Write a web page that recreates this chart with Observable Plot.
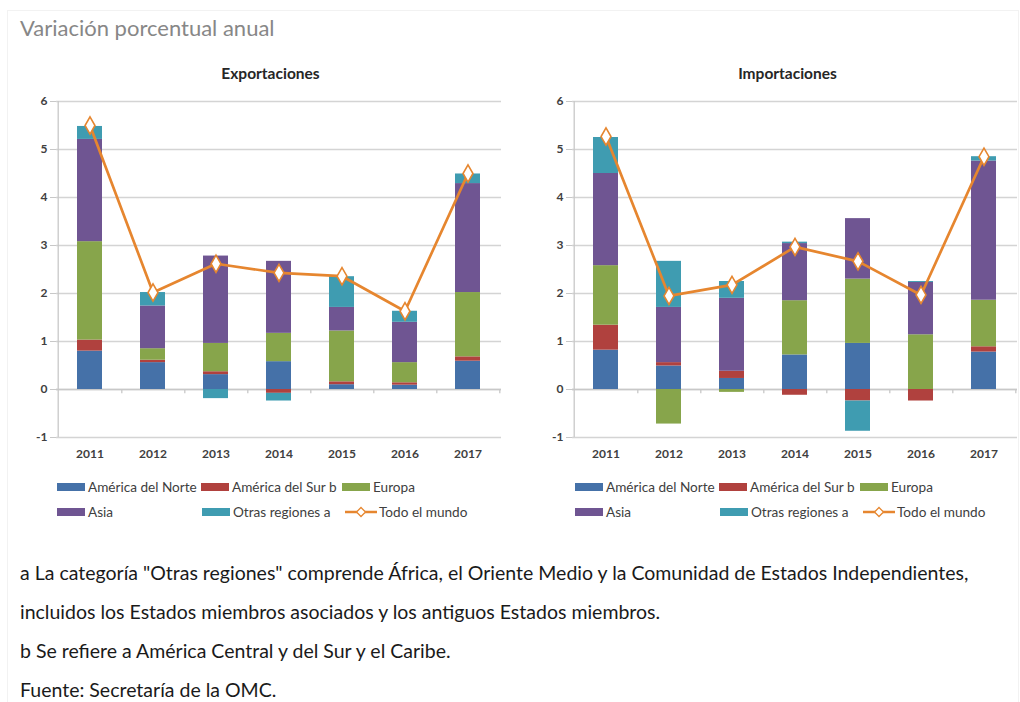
<!DOCTYPE html>
<html><head><meta charset="utf-8">
<script src="https://cdn.jsdelivr.net/npm/d3@7"></script>
<script src="https://cdn.jsdelivr.net/npm/@observablehq/plot@0.6"></script>
<style>
body{margin:0;background:#fff;font-family:Lato,"Open Sans",sans-serif;}
#page{position:relative;width:1020px;height:702px;overflow:hidden;}
#frame{position:absolute;left:7px;top:10px;width:1010px;height:700px;border:1px solid #f2f2f2;}
.abs{position:absolute;}
#title{left:20px;top:14px;font-size:22px;color:#878787;}
.ctitle{font-size:15.5px;font-weight:bold;color:#262626;width:445px;text-align:center;top:64px;}
.leg{font-size:13.6px;color:#404040;}
.legitem{position:absolute;display:flex;align-items:center;white-space:nowrap;}
.sw{width:28px;height:8px;margin-right:3px;}
.note{left:20px;font-size:19.5px;color:#1a1a1a;white-space:nowrap;}
</style></head>
<body><div id="page">
<div id="frame"></div>
<div id="title" class="abs">Variación porcentual anual</div>
<div id="t1" class="abs ctitle" style="left:48px">Exportaciones</div>
<div id="t2" class="abs ctitle" style="left:565px">Importaciones</div>
<div id="c1" class="abs" style="left:0;top:90px"></div>
<div id="c2" class="abs" style="left:516px;top:90px"></div>
<div id="l1" class="abs leg" style="left:57px;top:479px"></div>
<div id="l2" class="abs leg" style="left:575px;top:479px"></div>
<div class="abs note" style="top:561px">a La categoría "Otras regiones" comprende África, el Oriente Medio y la Comunidad de Estados Independientes,</div>
<div class="abs note" style="top:600px">incluidos los Estados miembros asociados y los antiguos Estados miembros.</div>
<div class="abs note" style="top:639px">b Se refiere a América Central y del Sur y el Caribe.</div>
<div class="abs note" style="top:678px">Fuente: Secretaría de la OMC.</div>
</div>
<script>
const years = ["2011","2012","2013","2014","2015","2016","2017"];
const regions = ["América del Norte","América del Sur b","Europa","Asia","Otras regiones a"];
const regionColors = ["#4571a8","#b0413e","#87a54b","#6f5592","#3f9cb1"];
const worldLabel = "Todo el mundo";
const worldColor = "#e6862f";
const yTicks = [-1,0,1,2,3,4,5,6];

// Exportaciones: contributions by region
const expNorte = [0.80, 0.56, 0.31, 0.58, 0.10, 0.09, 0.59];
const expSur   = [0.23, 0.05, 0.06, -0.08, 0.06, 0.05, 0.09];
const expEuropa= [2.05, 0.24, 0.59, 0.59, 1.06, 0.42, 1.34];
const expAsia  = [2.13, 0.89, 1.82, 1.50, 0.49, 0.84, 2.27];
const expOtras = [0.27, 0.28, -0.19, -0.16, 0.64, 0.23, 0.20];
const expMundo = [5.50, 2.02, 2.62, 2.43, 2.36, 1.63, 4.50];

// Importaciones
const impNorte = [0.82, 0.49, 0.23, 0.72, 0.96, 0.00, 0.78];
const impSur   = [0.52, 0.07, 0.15, -0.12, -0.24, -0.24, 0.11];
const impEuropa= [1.24, -0.72, -0.06, 1.13, 1.34, 1.14, 0.97];
const impAsia  = [1.92, 1.15, 1.52, 1.19, 1.26, 1.09, 2.90];
const impOtras = [0.75, 0.96, 0.35, 0.03, -0.63, 0.02, 0.09];
const impMundo = [5.27, 1.95, 2.18, 2.97, 2.67, 1.97, 4.85];

function rows(series){
  const out=[];
  series.forEach((vals,i)=>vals.forEach((v,j)=>out.push({year:years[j],region:regions[i],value:v})));
  return out;
}

function chart(series, world){
  const data = rows(series);
  const wd = years.map((y,i)=>({year:y,value:world[i]}));
  return Plot.plot({
    width:503, height:380,
    marginLeft:56, marginRight:2, marginTop:11, marginBottom:33,
    style:{fontFamily:"Lato, sans-serif",fontSize:"12px",color:"#333",background:"transparent"},
    x:{domain:years,paddingInner:0.6,paddingOuter:0.3,label:null},
    y:{domain:[-1,6],label:null},
    color:{domain:regions,range:regionColors},
    marks:[
      Plot.gridY(yTicks,{stroke:"#d4d4d4",strokeOpacity:1,strokeWidth:1.3}),
      Plot.ruleY([0],{stroke:"#c8c8c8",strokeWidth:1.3}),
      Plot.ruleX([years[0]],{dx:-31.8,y1:-1,y2:6,stroke:"#c8c8c8",strokeWidth:1.3}),
      Plot.ruleX(years,{x:d=>d,dx:31.8,y1:0,y2:-0.09,stroke:"#c8c8c8",strokeWidth:1.3}),
      Plot.barY(data,{x:"year",y:"value",fill:"region",order:regions}),
      Plot.line(wd,{x:"year",y:"value",stroke:worldColor,strokeWidth:2.7}),
      Plot.dot(wd,{x:"year",y:"value",symbol:"diamond",r:5.2,fill:"white",stroke:worldColor,strokeWidth:1.6}),
      Plot.axisY(yTicks,{tickSize:6,tickPadding:3,stroke:"#c8c8c8",fill:"#404040",fontWeight:"bold",tickFormat:d=>String(d)}),
      Plot.axisX({tickSize:0,tickPadding:12,fill:"#404040",fontWeight:"bold"})
    ]
  });
}

document.getElementById("c1").append(chart([expNorte,expSur,expEuropa,expAsia,expOtras],expMundo));
document.getElementById("c2").append(chart([impNorte,impSur,impEuropa,impAsia,impOtras],impMundo));

function legend(el){
  const pos=[[0,0],[144,0],[285,0],[0,25],[145,25]];
  regions.forEach((r,i)=>{
    const it=document.createElement("div");
    it.className="legitem";
    it.style.left=pos[i][0]+"px"; it.style.top=pos[i][1]+"px";
    it.innerHTML=`<span class="sw" style="background:${regionColors[i]}"></span>${r}`;
    el.append(it);
  });
  const it=document.createElement("div");
  it.className="legitem";
  it.style.left="288px"; it.style.top="25px";
  it.innerHTML=`<svg width="32" height="12" style="margin-right:2px"><line x1="0" y1="6" x2="32" y2="6" stroke="${worldColor}" stroke-width="2.5"/><path d="M16,1.5L20.5,6L16,10.5L11.5,6Z" fill="white" stroke="${worldColor}" stroke-width="1.3"/></svg>${worldLabel}`;
  el.append(it);
}
legend(document.getElementById("l1"));
legend(document.getElementById("l2"));
</script>
</body></html>
